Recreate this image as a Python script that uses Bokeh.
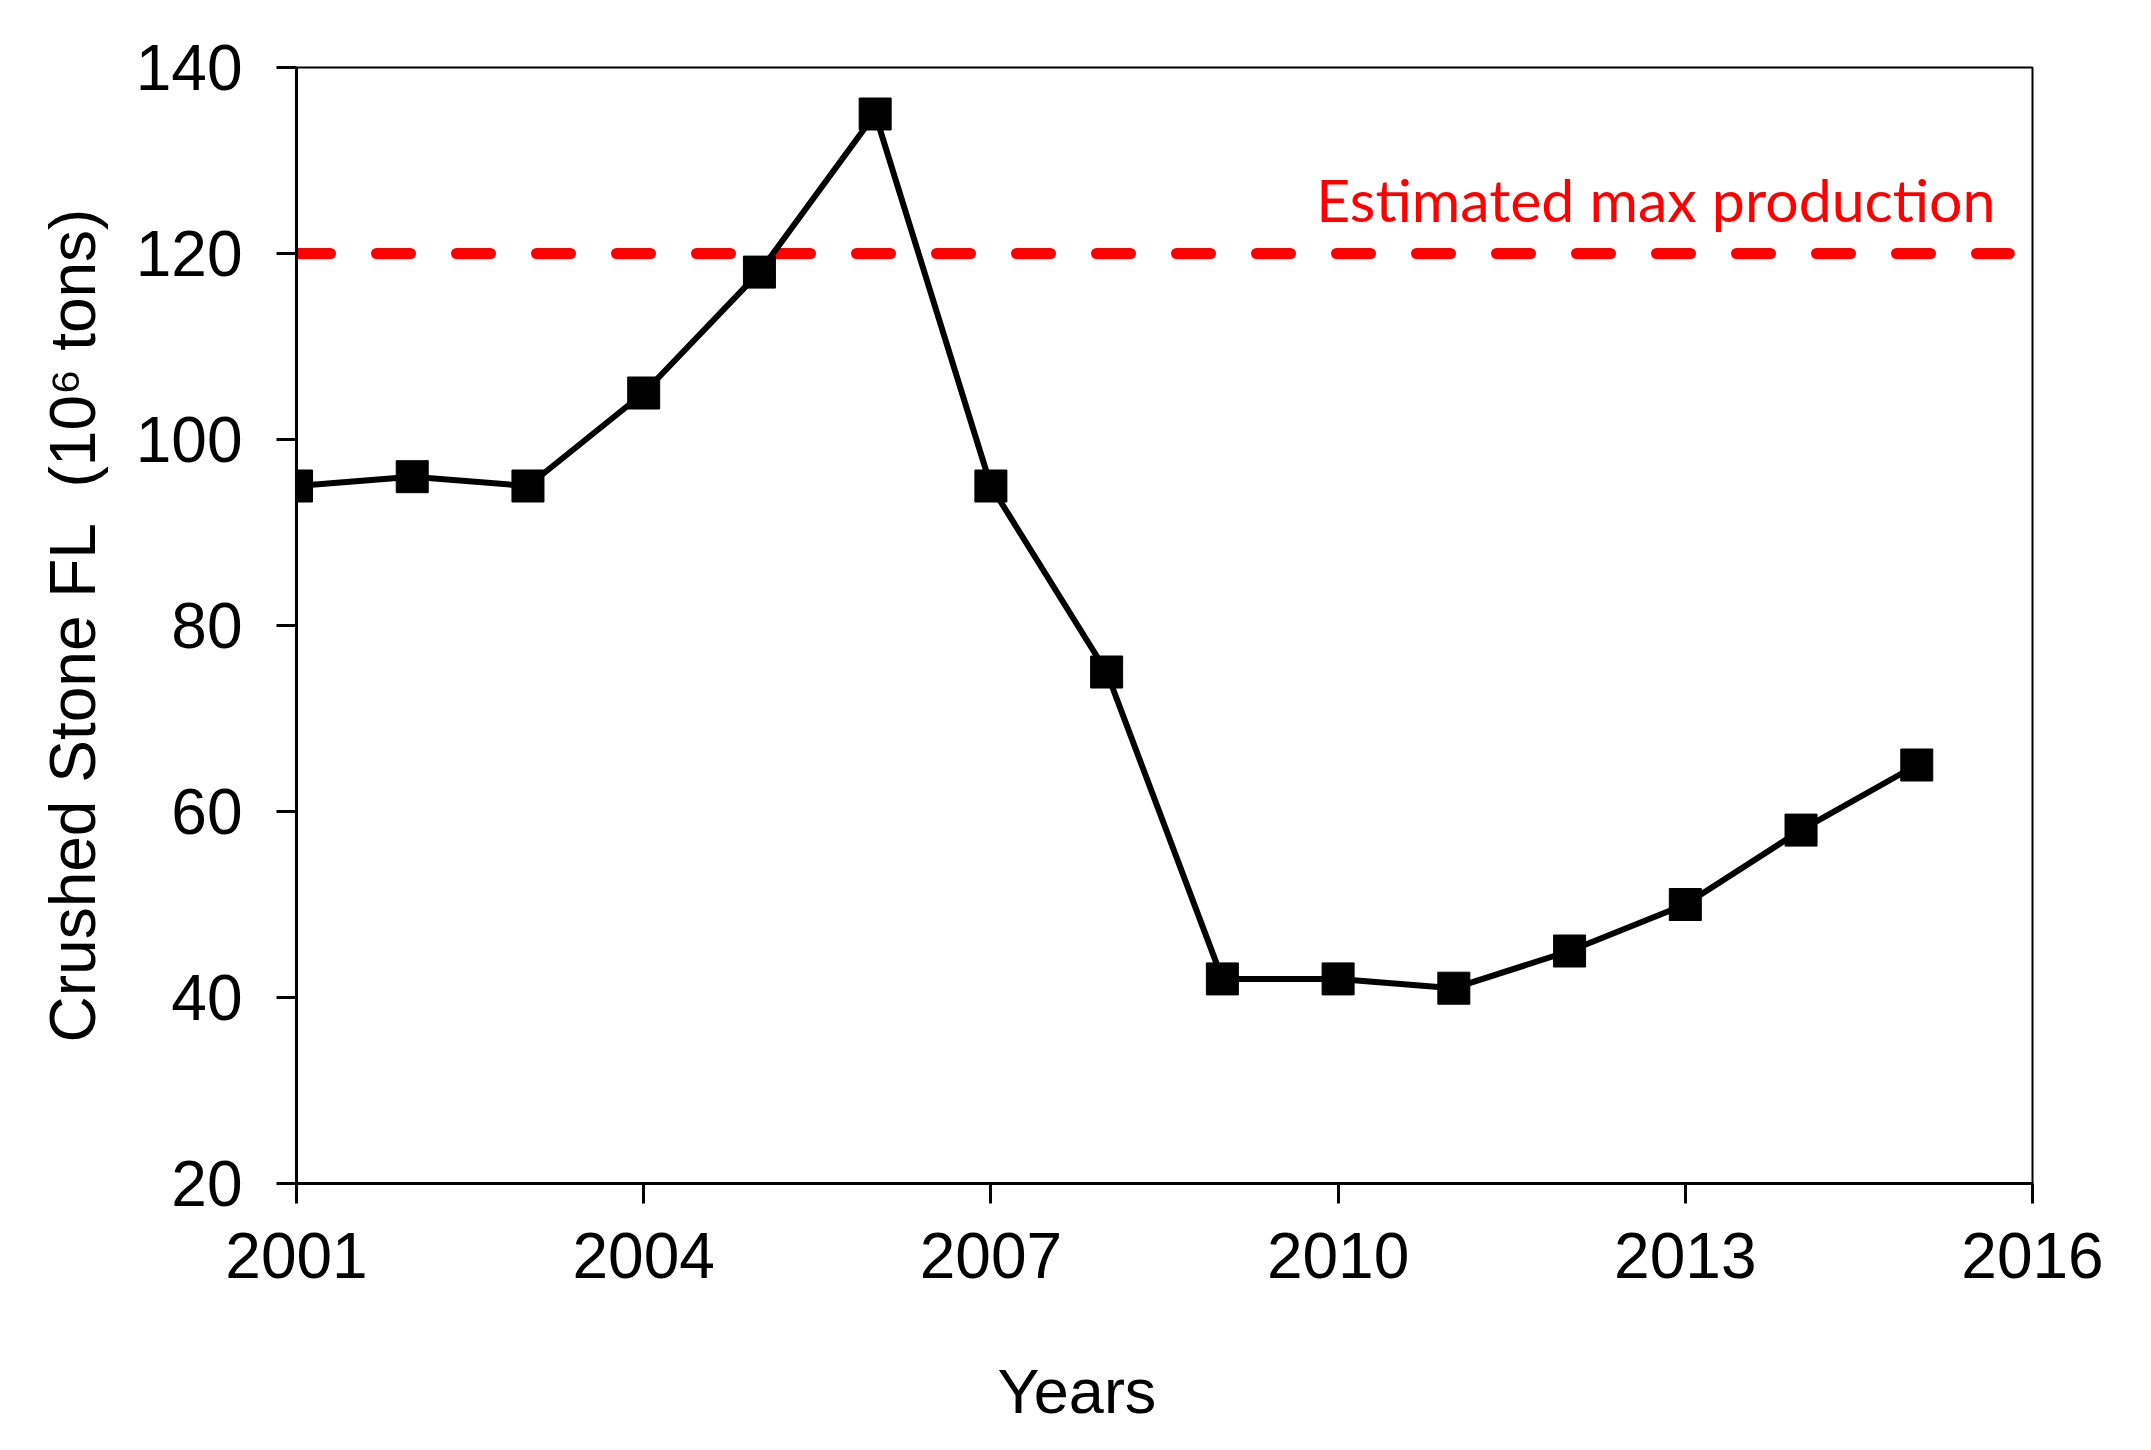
from bokeh.plotting import figure
from bokeh.models import FixedTicker
from bokeh.embed import file_html
from bokeh.resources import INLINE
from bokeh.core.properties import value

years = [2001, 2002, 2003, 2004, 2005, 2006, 2007, 2008, 2009, 2010, 2011, 2012, 2013, 2014, 2015]
production = [95, 96, 95, 105, 118, 135, 95, 75, 42, 42, 41, 45, 50, 58, 65]
max_production = 120
max_line_x = [2001, 2015.8]
x_ticks = [2001, 2004, 2007, 2010, 2013, 2016]
y_ticks = [20, 40, 60, 80, 100, 120, 140]

p = figure(width=2143, height=1442, output_backend="svg", toolbar_location=None,
           x_range=(2001, 2016), y_range=(20, 140),
           min_border_left=296, min_border_right=111, min_border_top=67, min_border_bottom=259)
p.grid.visible = False
p.background_fill_color = "white"
p.border_fill_color = "white"
p.outline_line_color = "black"
p.outline_line_width = 2

for ax in (p.xaxis[0], p.yaxis[0]):
    ax.axis_line_color = "black"
    ax.axis_line_width = 3
    ax.major_tick_line_color = "black"
    ax.major_tick_line_width = 3
    ax.major_tick_out = 20
    ax.major_tick_in = 0
    ax.minor_tick_out = 0
    ax.minor_tick_in = 0
    ax.major_label_text_font = "Liberation Sans"
    ax.major_label_text_font_size = "64px"
    ax.major_label_text_color = "black"
    ax.axis_label_text_font = "Liberation Sans"
    ax.axis_label_text_font_size = "64px"
    ax.axis_label_text_font_style = "normal"
    ax.axis_label_text_color = "black"

p.xaxis.ticker = FixedTicker(ticks=x_ticks)
p.yaxis.ticker = FixedTicker(ticks=y_ticks)
p.xaxis.major_label_standoff = 29
p.yaxis.major_label_standoff = 34
p.yaxis.axis_label = "Crushed Stone FL\u00a0 (10\u2076 tons)"
p.yaxis.axis_label_standoff = 24
p.xaxis.axis_label = "Years" + "\u00a0" * 10
p.xaxis.axis_label_text_font_size = "63px"
p.xaxis.axis_label_standoff = 75

p.line(max_line_x, [max_production, max_production], line_color="#FF0000", line_width=11,
       line_dash="34 46", line_cap="round")
p.text(x=[2015.68], y=[125.8], text=["Estimated max production"], text_color="#FF0000",
       text_font=value("Lato"), text_font_size="59px", text_align="right", text_baseline="alphabetic")

p.line(years, production, line_color="black", line_width=6)
p.scatter(years, production, marker="square", size=32, fill_color="black", line_color="black")

open("out.html", "w").write(file_html(p, INLINE))
